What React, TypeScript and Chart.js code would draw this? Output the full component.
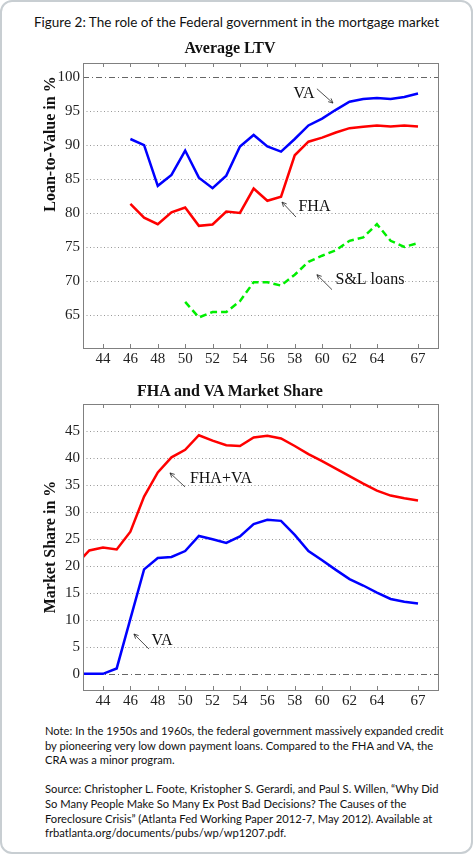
import React, { useEffect, useRef } from "react";
import { Chart, registerables } from "chart.js";

Chart.register(...registerables);

// ---------- data ----------
const LTV_YEARS = [46, 47, 48, 49, 50, 51, 52, 53, 54, 55, 56, 57, 58, 59, 60, 61, 62, 63, 64, 65, 66, 67];
const VA_LTV = [90.9, 90.0, 84.0, 85.6, 89.2, 85.2, 83.65, 85.5, 89.8, 91.5, 89.8, 89.05, 90.9, 92.9, 93.9, 95.2, 96.4, 96.8, 96.95, 96.8, 97.1, 97.6];
const FHA_LTV = [81.35, 79.3, 78.35, 80.1, 80.8, 78.1, 78.3, 80.2, 80.0, 83.6, 81.8, 82.4, 88.5, 90.5, 91.1, 91.85, 92.5, 92.7, 92.9, 92.75, 92.9, 92.75];
const SL_YEARS = [50, 51, 52, 53, 54, 55, 56, 57, 58, 59, 60, 61, 62, 63, 64, 65, 66, 67];
const SL_LTV = [66.9, 64.6, 65.4, 65.4, 67.0, 69.8, 69.8, 69.3, 70.9, 72.8, 73.7, 74.5, 75.9, 76.4, 78.35, 75.9, 75.0, 75.55];
const LTV_TICKS = [65, 70, 75, 80, 85, 90, 95, 100];

const SHARE_YEARS = [42, 43, 44, 45, 46, 47, 48, 49, 50, 51, 52, 53, 54, 55, 56, 57, 58, 59, 60, 61, 62, 63, 64, 65, 66, 67];
const VA_SHARE = [0, 0, 0, 1.0, 10.2, 19.4, 21.5, 21.7, 22.8, 25.6, 25.0, 24.3, 25.5, 27.8, 28.6, 28.4, 25.8, 22.8, 21.1, 19.3, 17.6, 16.4, 15.1, 13.9, 13.4, 13.05];
const FHAVA_SHARE = [20.2, 22.9, 23.45, 23.1, 26.4, 32.9, 37.4, 40.2, 41.6, 44.3, 43.3, 42.45, 42.3, 43.9, 44.2, 43.7, 42.3, 40.8, 39.5, 38.1, 36.7, 35.3, 34.0, 33.1, 32.6, 32.2];
const SHARE_TICKS = [0, 5, 10, 15, 20, 25, 30, 35, 40, 45];

const YEAR_TICKS = [44, 46, 48, 50, 52, 54, 56, 58, 60, 62, 64, 67];

// annotation labels (text position and arrow tail/head in data units)
const LTV_NOTES = [
  { text: "VA", x: 58.67, y: 97.5, tx: 59.62, ty: 98.3, hx: 60.79, hy: 96.2 },
  { text: "FHA", x: 59.44, y: 80.9, tx: 58.09, ty: 79.4, hx: 57.07, hy: 81.6 },
  { text: "S&L loans", x: 63.49, y: 70.2, tx: 60.72, ty: 68.7, hx: 59.62, hy: 70.9 },
];
const SHARE_NOTES = [
  { text: "FHA+VA", x: 52.61, y: 36.2, tx: 49.99, ty: 34.7, hx: 48.89, hy: 37.3 },
  { text: "VA", x: 48.31, y: 6.1, tx: 47.36, ty: 4.6, hx: 46.26, hy: 7.4 },
];

const SERIF = '"Liberation Serif", "Times New Roman", serif';
const SANS = 'Lato, "Open Sans", sans-serif';

function makeOverlay(gridTicks: number[], refValue: number, notes: any[]) {
  return {
    id: "overlay",
    beforeDatasetsDraw(chart: any) {
      const { ctx, chartArea: a, scales } = chart;
      const ys = scales.y;
      ctx.save();
      for (const v of gridTicks) {
        const py = Math.round(ys.getPixelForValue(v)) + 0.5;
        ctx.beginPath();
        if (v === refValue) {
          ctx.setLineDash([6, 3, 1, 3]);
          ctx.strokeStyle = "#666";
        } else {
          ctx.setLineDash([1, 2.5]);
          ctx.strokeStyle = "#999";
        }
        ctx.lineWidth = 1;
        ctx.moveTo(a.left, py);
        ctx.lineTo(a.right, py);
        ctx.stroke();
      }
      ctx.restore();
    },
    afterDatasetsDraw(chart: any) {
      const { ctx, scales } = chart;
      const xs = scales.x;
      const ys = scales.y;
      ctx.save();
      ctx.fillStyle = "#111";
      ctx.strokeStyle = "#222";
      ctx.font = `16px ${SERIF}`;
      ctx.textAlign = "center";
      ctx.textBaseline = "middle";
      for (const n of notes) {
        ctx.fillText(n.text, xs.getPixelForValue(n.x), ys.getPixelForValue(n.y));
        const x1 = xs.getPixelForValue(n.tx), y1 = ys.getPixelForValue(n.ty);
        const x2 = xs.getPixelForValue(n.hx), y2 = ys.getPixelForValue(n.hy);
        ctx.lineWidth = 0.8;
        ctx.beginPath();
        ctx.moveTo(x1, y1);
        ctx.lineTo(x2, y2);
        ctx.stroke();
        const ang = Math.atan2(y2 - y1, x2 - x1);
        const L = 5;
        ctx.beginPath();
        ctx.moveTo(x2 - L * Math.cos(ang - 0.45), y2 - L * Math.sin(ang - 0.45));
        ctx.lineTo(x2, y2);
        ctx.lineTo(x2 - L * Math.cos(ang + 0.45), y2 - L * Math.sin(ang + 0.45));
        ctx.stroke();
      }
      ctx.restore();
    },
    afterDraw(chart: any) {
      const { ctx, chartArea: a, scales } = chart;
      const xs = scales.x;
      ctx.save();
      ctx.strokeStyle = "#808080";
      ctx.lineWidth = 1;
      ctx.strokeRect(Math.round(a.left) + 0.5, Math.round(a.top) + 0.5, Math.round(a.right - a.left), Math.round(a.bottom - a.top));
      ctx.beginPath();
      for (const t of YEAR_TICKS) {
        const px = Math.round(xs.getPixelForValue(t)) + 0.5;
        ctx.moveTo(px, a.top);
        ctx.lineTo(px, a.top + 4);
        ctx.moveTo(px, a.bottom);
        ctx.lineTo(px, a.bottom - 4);
      }
      ctx.stroke();
      ctx.restore();
    },
  };
}

function noPad(s: any) {
  s.paddingTop = 0;
  s.paddingBottom = 0;
  s.paddingLeft = 0;
  s.paddingRight = 0;
}

function baseOptions(yMin: number, yMax: number, yTicks: number[], xHeight: number) {
  return {
    responsive: false,
    animation: false,
    layout: { padding: { top: 8, right: 35, left: 0, bottom: 0 } },
    plugins: { legend: { display: false }, tooltip: { enabled: false }, title: { display: false } },
    elements: { point: { radius: 0 }, line: { tension: 0 } },
    scales: {
      x: {
        type: "linear",
        min: 42.54,
        max: 68.46,
        grid: { display: false, drawTicks: false },
        border: { display: false },
        afterBuildTicks: (s: any) => {
          s.ticks = YEAR_TICKS.map((v) => ({ value: v }));
        },
        afterFit: (s: any) => {
          s.height = xHeight;
          noPad(s);
        },
        ticks: {
          padding: 2,
          autoSkip: false,
          maxRotation: 0,
          color: "#222",
          font: { family: SERIF, size: 15 },
          callback: (v: any) => String(v),
        },
      },
      y: {
        min: yMin,
        max: yMax,
        grid: { display: false, drawTicks: false },
        border: { display: false },
        afterBuildTicks: (s: any) => {
          s.ticks = yTicks.map((v) => ({ value: v }));
        },
        afterFit: (s: any) => {
          s.width = 83;
          noPad(s);
        },
        ticks: {
          padding: 3,
          color: "#222",
          font: { family: SERIF, size: 15 },
          callback: (v: any) => String(v),
        },
      },
    },
  };
}

function line(label: string, xs: number[], ys: number[], color: string, dash?: number[]) {
  return {
    label,
    data: xs.map((x, i) => ({ x, y: ys[i] })),
    borderColor: color,
    backgroundColor: color,
    borderWidth: 2.5,
    borderDash: dash || [],
    pointRadius: 0,
    fill: false,
  };
}

export default function App() {
  const c1 = useRef<HTMLCanvasElement>(null);
  const c2 = useRef<HTMLCanvasElement>(null);

  useEffect(() => {
    const ch1 = new Chart(c1.current as HTMLCanvasElement, {
      type: "line",
      data: {
        datasets: [
          line("VA", LTV_YEARS, VA_LTV, "#0000ff"),
          line("FHA", LTV_YEARS, FHA_LTV, "#ff0000"),
          line("S&L loans", SL_YEARS, SL_LTV, "#00ee00", [7, 4]),
        ],
      },
      options: baseOptions(60.1, 102.1, LTV_TICKS, 22) as any,
      plugins: [makeOverlay(LTV_TICKS, 100, LTV_NOTES)],
    });
    const ch2 = new Chart(c2.current as HTMLCanvasElement, {
      type: "line",
      data: {
        datasets: [
          line("FHA+VA", SHARE_YEARS, FHAVA_SHARE, "#ff0000"),
          line("VA", SHARE_YEARS, VA_SHARE, "#0000ff"),
        ],
      },
      options: baseOptions(-3, 50.1, SHARE_TICKS, 26) as any,
      plugins: [makeOverlay(SHARE_TICKS, 0, SHARE_NOTES)],
    });
    return () => {
      ch1.destroy();
      ch2.destroy();
    };
  }, []);

  const abs = (s: any) => ({ position: "absolute" as const, ...s });
  const rot = (cx: number, cy: number) =>
    abs({
      left: cx,
      top: cy,
      transform: "translate(-50%, -50%) rotate(-90deg)",
      whiteSpace: "nowrap",
      fontFamily: SERIF,
      fontWeight: "bold",
      fontSize: 16,
      color: "#111",
    });

  return (
    <div
      style={abs({
        left: 0,
        top: 0,
        width: 473,
        height: 854,
        boxSizing: "border-box",
        border: "2px solid #c8ced2",
        borderRadius: 12,
        background: "#fff",
        overflow: "hidden",
      })}
    >
      <canvas ref={c1} width={473} height={315} style={abs({ left: -2, top: 53 })} />
      <canvas ref={c2} width={473} height={320} style={abs({ left: -2, top: 394 })} />
      <div
        style={abs({
          left: 0,
          width: 469,
          top: 12,
          textAlign: "center",
          fontFamily: SANS,
          fontSize: 13.5,
          color: "#111",
          whiteSpace: "nowrap",
        })}
      >
        Figure 2: The role of the Federal government in the mortgage market
      </div>
      <div style={abs({ left: 178, width: 100, top: 37, textAlign: "center", fontFamily: SERIF, fontWeight: "bold", fontSize: 16, whiteSpace: "nowrap", color: "#111" })}>
        Average LTV
      </div>
      <div style={abs({ left: 128, width: 200, top: 380, textAlign: "center", fontFamily: SERIF, fontWeight: "bold", fontSize: 16, whiteSpace: "nowrap", color: "#111" })}>
        FHA and VA Market Share
      </div>
      <div style={rot(48, 142)}>Loan-to-Value in %</div>
      <div style={rot(48, 545)}>Market Share in %</div>
      <div
        style={abs({
          left: 43,
          top: 722,
          fontFamily: SANS,
          fontSize: 11.2,
          lineHeight: "14.6px",
          color: "#111",
          whiteSpace: "nowrap",
        })}
      >
        Note: In the 1950s and 1960s, the federal government massively expanded credit
        <br />
        by pioneering very low down payment loans. Compared to the FHA and VA, the
        <br />
        CRA was a minor program.
        <br />
        <br />
        Source: Christopher L. Foote, Kristopher S. Gerardi, and Paul S. Willen, “Why Did
        <br />
        So Many People Make So Many Ex Post Bad Decisions? The Causes of the
        <br />
        Foreclosure Crisis” (Atlanta Fed Working Paper 2012-7, May 2012). Available at
        <br />
        frbatlanta.org/documents/pubs/wp/wp1207.pdf.
      </div>
    </div>
  );
}
